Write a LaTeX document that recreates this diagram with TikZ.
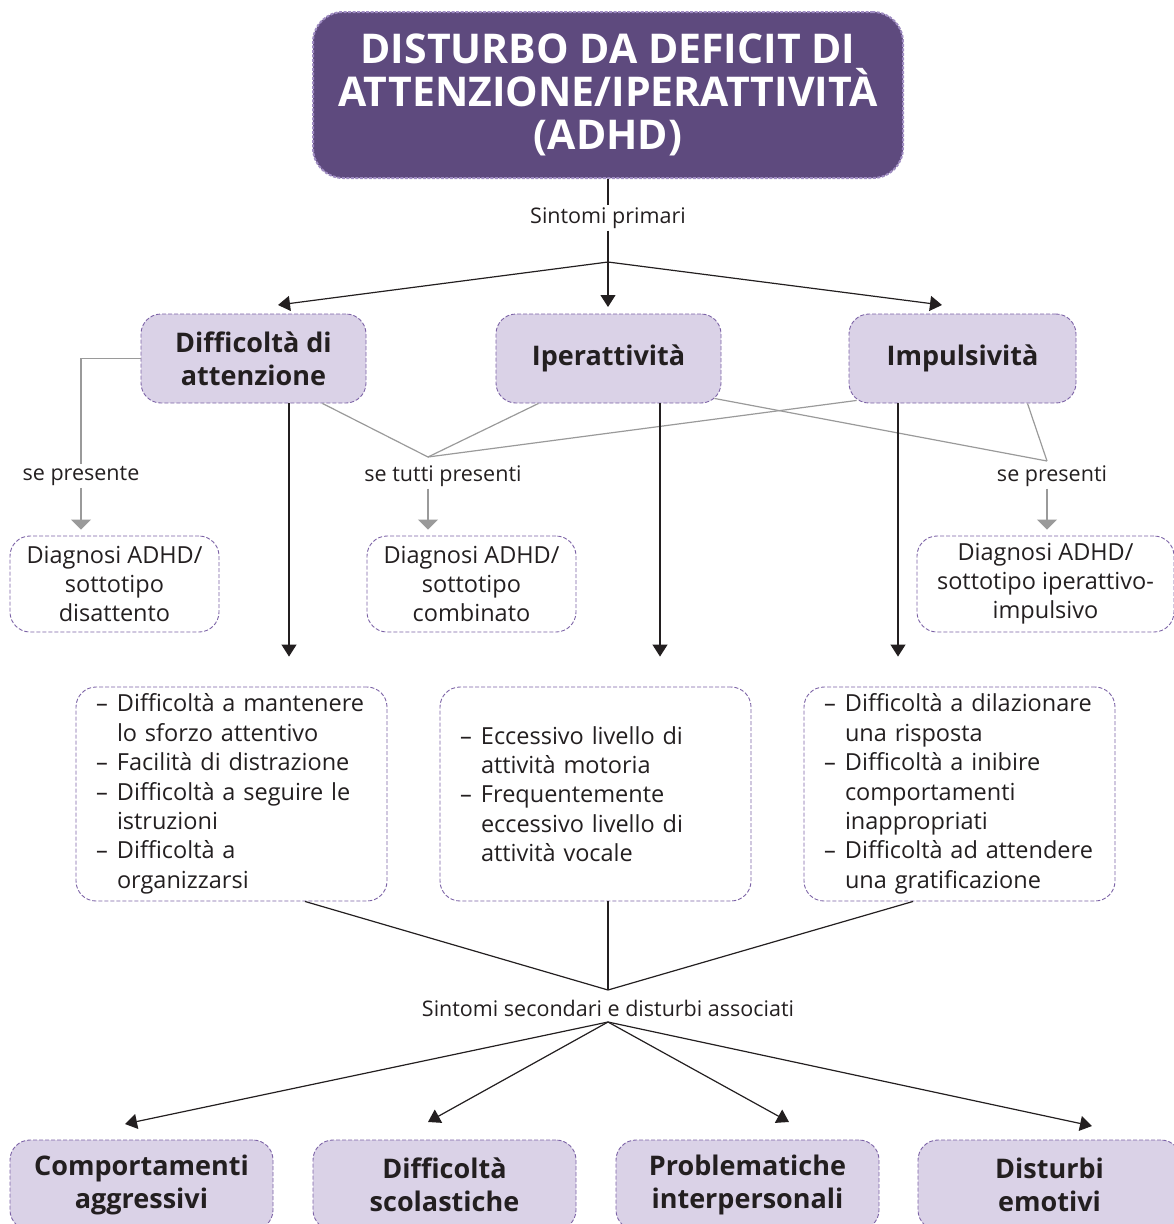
\documentclass[tikz,border=0pt]{standalone}
\usepackage{fontspec}
\setmainfont{Open Sans}
\usetikzlibrary{arrows.meta,calc}
\definecolor{titlefill}{HTML}{5E4A7E}
\definecolor{titlebord}{HTML}{9F8CC2}
\definecolor{lav}{HTML}{DAD2E7}
\definecolor{bord}{HTML}{7C63A6}
\definecolor{txt}{HTML}{231F20}
\definecolor{gry}{HTML}{9A9A9A}
\newcommand\itm{\makebox[21pt][l]{–}}
\newcommand\cnt{\hspace*{21pt}}
\begin{document}
\begin{tikzpicture}[x=1pt,y=-1pt,
  every node/.style={text=txt},
  titlebox/.style={rounded corners=30pt, fill=titlefill, draw=titlebord, line width=2pt,
    dash pattern=on 3pt off 1.5pt, minimum width=590pt, minimum height=166pt, align=center,
    text=white, font=\fontsize{41}{43}\selectfont\bfseries},
  mainbox/.style={rounded corners=20pt, fill=lav, draw=bord, line width=0.9pt,
    dash pattern=on 4pt off 2pt, minimum width=225pt, minimum height=89pt, align=center,
    font=\fontsize{27}{33}\selectfont\bfseries},
  diagbox/.style={rounded corners=20pt, fill=white, draw=bord, line width=0.9pt,
    dash pattern=on 4pt off 2pt, minimum width=209pt, minimum height=96pt, align=center,
    inner sep=0pt, font=\fontsize{23.5}{29}\selectfont},
  listbox/.style={rounded corners=20pt, fill=white, draw=bord, line width=0.9pt,
    dash pattern=on 4pt off 2pt, minimum height=214pt, inner xsep=20pt, inner ysep=0pt,
    text width=271pt, align=left, font=\fontsize{23.5}{29.4}\selectfont},
  lbl/.style={inner sep=2pt, font=\fontsize{21.5}{24}\selectfont},
  blk/.style={draw=txt, line width=1.2pt},
  blkarr/.style={blk, -{Triangle[length=12pt,width=15pt]}},
  gryl/.style={draw=gry, line width=1.2pt},
  gryarr/.style={gryl, -{Triangle[length=10pt,width=20pt]}}
]
\useasboundingbox (0,0) rectangle (1174,1224);

% title
\node[titlebox] (title) at (608,95) {DISTURBO DA DEFICIT DI\\ATTENZIONE/IPERATTIVITÀ\\(ADHD)};
\node[lbl] (sp) at (608,218) {Sintomi primari};
\coordinate (j1) at (608,262);
\coordinate (t1) at (278,305);
\coordinate (t2) at (608,307);
\coordinate (t3) at (942,305);

% main boxes
\node[mainbox] (att) at (253.5,358.5) {Difficoltà di\\attenzione};
\node[mainbox] (ipe) at (608.5,358.5) {Iperattività};
\node[mainbox, minimum width=227pt] (imp) at (962.5,358.5) {Impulsività};

% diagnosis
\node[diagbox] (dg1) at (114.5,584) {Diagnosi ADHD/\\sottotipo\\disattento};
\node[diagbox] (dg2) at (471.5,584) {Diagnosi ADHD/\\sottotipo\\combinato};
\node[diagbox, minimum width=257pt] (dg3) at (1045.5,584) {Diagnosi ADHD/\\sottotipo iperattivo-\\impulsivo};

\node[lbl] (se1) at (81,476) {se presente};
\node[lbl] (se2) at (443,476) {se tutti presenti};
\node[lbl] (se3) at (1052,476) {se presenti};
\coordinate (c2) at (428,457);
\coordinate (c3) at (1047,461);

% lists
\node[listbox] (l1) at (231.5,794) {\itm Difficoltà a mantenere\\\cnt lo sforzo attentivo\\\itm Facilità di distrazione\\\itm Difficoltà a seguire le\\\cnt istruzioni\\\itm Difficoltà a\\\cnt organizzarsi};
\node[listbox] (l2) at (595.5,794) {\itm Eccessivo livello di\\\cnt attività motoria\\\itm Frequentemente\\\cnt eccessivo livello di\\\cnt attività vocale};
\node[listbox] (l3) at (959.5,794) {\itm Difficoltà a dilazionare\\\cnt una risposta\\\itm Difficoltà a inibire\\\cnt comportamenti\\\cnt inappropriati\\\itm Difficoltà ad attendere\\\cnt una gratificazione};

\coordinate (j2) at (608,990);
\node[lbl] (ss) at (608,1008) {Sintomi secondari e disturbi associati};
\coordinate (j3) at (608,1022);

% bottom
\node[mainbox, minimum width=263pt, minimum height=90pt] (b1) at (141.5,1185) {Comportamenti\\aggressivi};
\node[mainbox, minimum width=263pt, minimum height=90pt] (b2) at (444.5,1185) {Difficoltà\\scolastiche};
\node[mainbox, minimum width=263pt, minimum height=90pt] (b3) at (747.5,1185) {Problematiche\\interpersonali};
\node[mainbox, minimum width=263pt, minimum height=90pt] (b4) at (1049.5,1185) {Disturbi\\emotivi};
\coordinate (u1) at (125,1124);
\coordinate (u2) at (428,1122);
\coordinate (u3) at (789,1122);
\coordinate (u4) at (1092,1126);

% connectors top
\draw[blk] (title.south) -- (sp.north);
\draw[blk] (sp.south) -- (j1);
\draw[blkarr] (j1) -- (t1);
\draw[blkarr] (j1) -- (t2);
\draw[blkarr] (j1) -- (t3);

% gray
\draw[gryl] (att.west) -| (se1.north);
\draw[gryarr, shorten >=6pt] (se1.south) -- (dg1.north -| se1.south);
\draw[gryl] ($(att.south)+(69,0)$) -- (c2);
\draw[gryl] ($(ipe.south)+(-70,0)$) -- (c2);
\draw[gryl] ($(imp.south west)+(8,-3)$) -- (c2);
\draw[gryarr, shorten >=6pt] (se2.south -| c2) -- (dg2.north -| c2);
\draw[gryl] ($(ipe.south east)+(-7,-5)$) -- (c3);
\draw[gryl] ($(imp.south)+(65,0)$) -- (c3);
\draw[gryarr, shorten >=6pt] (se3.south -| c3) -- (dg3.north -| c3);

% black verticals
\draw[blkarr, shorten >=30pt] ($(att.south)+(35.5,0)$) -- ($(l1.north)+(57.5,0)$);
\draw[blkarr, shorten >=30pt] ($(ipe.south)+(51.5,0)$) -- ($(l2.north)+(64.5,0)$);
\draw[blkarr, shorten >=30pt] ($(imp.south)+(-64.5,0)$) -- ($(l3.north)+(-61.5,0)$);

% to secondary
\draw[blk] ($(l1.south)+(73.5,0)$) -- (j2);
\draw[blk] (l2.south -| j2) -- (j2);
\draw[blk] ($(l3.south)+(-46.5,0)$) -- (j2);
\draw[blkarr] (j3) -- (u1);
\draw[blkarr] (j3) -- (u2);
\draw[blkarr] (j3) -- (u3);
\draw[blkarr] (j3) -- (u4);
\end{tikzpicture}
\end{document}
